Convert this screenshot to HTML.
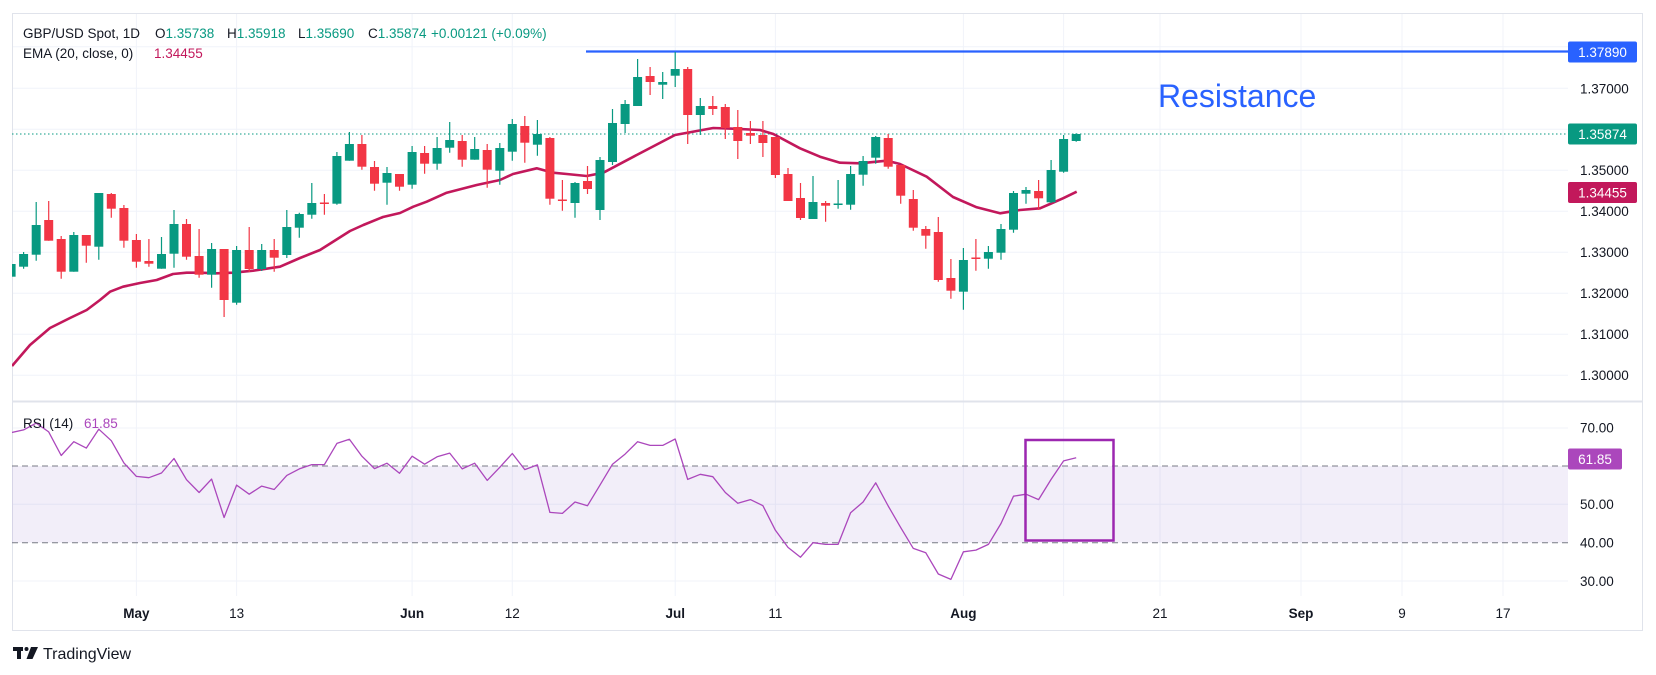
<!DOCTYPE html>
<html><head><meta charset="utf-8"><style>
html,body{margin:0;padding:0;background:#fff;}
svg{display:block;font-family:"Liberation Sans",sans-serif;}
</style></head><body>
<svg width="1656" height="675" viewBox="0 0 1656 675" xmlns="http://www.w3.org/2000/svg">
<defs>
<clipPath id="cp"><rect x="12" y="13" width="1556" height="388"/></clipPath>
<clipPath id="cr"><rect x="12" y="402" width="1556" height="194"/></clipPath>
</defs>
<rect x="0" y="0" width="1656" height="675" fill="#fff"/>
<!-- vertical grid -->
<g stroke="#f0f3fa" stroke-width="1">
<path d="M136.4 14V596M236.6 14V596M412.1 14V596M512.3 14V596M675.2 14V596M775.4 14V596M963.4 14V596M1063.6 14V596M1160 14V596M1301 14V596M1402 14V596M1503 14V596"/>
<path d="M12 46.7H1568M12 88.2H1568M12 129.2H1568M12 170.2H1568M12 211.2H1568M12 252.2H1568M12 293.2H1568M12 334.2H1568M12 375.2H1568"/>
<path d="M12 428H1568M12 504.3H1568M12 581H1568"/>
</g>
<!-- frame -->
<rect x="12.5" y="13.5" width="1630" height="617" fill="none" stroke="#e0e3eb"/>
<line x1="12" y1="401.5" x2="1643" y2="401.5" stroke="#e0e3eb" stroke-width="2"/>

<g clip-path="url(#cp)">
<!-- resistance -->
<line x1="586" y1="51.5" x2="1568" y2="51.5" stroke="#2962ff" stroke-width="2.2"/>
<!-- last price dotted -->
<line x1="12" y1="134" x2="1568" y2="134" stroke="#089981" stroke-width="1" stroke-dasharray="1.5,2.5"/>
<!-- EMA -->
<polyline fill="none" stroke="#c2185b" stroke-width="2.6" stroke-linejoin="round" points="12,366 30,345 50,328 70,318 86.7,310 100,300 110,291.7 123,286.7 140,283 156.7,280 173,274 186.7,272.7 200,272.7 216.7,273.3 233,272.7 253,270.7 280,266.7 300,258 320,250 350,231 363.3,225 383,217 400,213 413.3,206.7 426.7,201.7 446.7,192.7 476.7,185 500,180 513,174 536.7,168.3 553,172.7 566.7,174 586.7,176 603.3,172.7 636.7,155 675,135 713.3,128 733,128.7 760,130 773.3,134 800,148.3 820,156.7 840,162.7 860,163.3 886.7,160.7 900,164 926.7,176.7 953,197 976.7,207.3 1000,213.3 1020,210 1040,208.3 1050,204 1063,198.3 1076.7,191.7"/>
<!-- green candles -->
<path stroke="#089981" stroke-width="1.2" fill="none" d="M11.1 264V276.7M23.6 252V268.7M36.2 202V260.7M73.8 232V271.7M98.8 193V259.7M161.5 237V268.7M174 210V267.7M211.6 243V287.7M236.6 246V304.7M261.7 244V271M286.8 210V258M299.3 212.7V237.7M311.8 183V218.7M336.9 152V204.7M349.4 132V160.7M387 167V204.7M412.1 146V188.7M437.1 137V169.7M449.7 122V152.7M474.7 137V159.7M499.8 143V184.7M512.3 119V160.7M537.4 120V155.7M575 182V217.7M600 157V220M612.5 109V165M625.1 100V133M637.6 59V106M662.7 72V99M675.2 52V87M700.3 98V135M813 176V219M838.1 180V208.7M850.6 166V209.7M863.1 156V185.7M875.7 136V163.7M963.4 248V309.7M988.4 246V268.7M1001 224V259.7M1013.5 191V232.7M1026 187V203.7M1051.1 160V203M1063.6 135V172.7M1076.2 133.3V141.7"/>
<g fill="#089981">
<rect x="6.6" y="264" width="9" height="12.7"/><rect x="19.1" y="254" width="9" height="12.7"/><rect x="31.7" y="225" width="9" height="29.7"/><rect x="69.3" y="235" width="9" height="36.7"/><rect x="94.3" y="193" width="9" height="53.7"/><rect x="157" y="254" width="9" height="14.7"/><rect x="169.5" y="224" width="9" height="29.7"/><rect x="207.1" y="249" width="9" height="25.7"/><rect x="232.1" y="250" width="9" height="52.7"/><rect x="257.2" y="250" width="9" height="19"/><rect x="282.3" y="227" width="9" height="28"/><rect x="294.8" y="214" width="9" height="13.7"/><rect x="307.3" y="203" width="9" height="11.7"/><rect x="332.4" y="156" width="9" height="47.7"/><rect x="344.9" y="144" width="9" height="16.7"/><rect x="382.5" y="173" width="9" height="9.7"/><rect x="407.6" y="152" width="9" height="32.7"/><rect x="432.6" y="148" width="9" height="15.7"/><rect x="445.2" y="140" width="9" height="7.7"/><rect x="470.2" y="149" width="9" height="10.7"/><rect x="495.3" y="148" width="9" height="22.7"/><rect x="507.8" y="124" width="9" height="27.7"/><rect x="532.9" y="134" width="9" height="10.7"/><rect x="570.5" y="183" width="9" height="20"/><rect x="595.5" y="160" width="9" height="50"/><rect x="608" y="123" width="9" height="39"/><rect x="620.6" y="104" width="9" height="20"/><rect x="633.1" y="77" width="9" height="29"/><rect x="658.2" y="82" width="9" height="2.7"/><rect x="670.7" y="69" width="9" height="6.7"/><rect x="695.8" y="106" width="9" height="9"/><rect x="808.5" y="202" width="9" height="17"/><rect x="833.6" y="203.5" width="9" height="1.5"/><rect x="846.1" y="174" width="9" height="30.7"/><rect x="858.6" y="161" width="9" height="13.7"/><rect x="871.2" y="137" width="9" height="20.7"/><rect x="958.9" y="260" width="9" height="31.7"/><rect x="983.9" y="252" width="9" height="6.7"/><rect x="996.5" y="229" width="9" height="23.7"/><rect x="1009" y="193" width="9" height="36.7"/><rect x="1021.5" y="190" width="9" height="3.7"/><rect x="1046.6" y="170" width="9" height="32.3"/><rect x="1059.1" y="139" width="9" height="32.7"/><rect x="1071.7" y="134" width="9" height="7"/>
</g>
<!-- red candles -->
<path stroke="#f23645" stroke-width="1.2" fill="none" d="M48.7 201V240.7M61.2 236V278.7M86.3 235V262.7M111.3 193V217.7M123.9 205V247.7M136.4 234V267.7M148.9 239V266.7M186.5 219V259.7M199.1 229V277.7M224.1 249V317M249.2 227V272M274.2 239V271.7M324.4 194V214.7M361.9 135V169.7M374.5 161V190.7M399.5 174V190.7M424.6 146V173.7M462.2 135V166.7M487.2 144V187.7M524.8 116V162.7M549.9 137V204.7M562.4 180V210.7M587.5 166V194M650.1 67V95M687.7 67V144M712.8 96V115M725.3 104V139M737.8 110V159M750.4 121V144M762.9 121V157M775.4 137V178M788 168V201M800.5 183V220M825.6 201V221.7M888.2 134V168.7M900.7 165V203.7M913.3 190V230.7M925.8 226V248.7M938.3 217V281.7M950.9 259V298.7M975.9 239V270.7M1038.6 180V210"/>
<g fill="#f23645">
<rect x="44.2" y="220" width="9" height="20.7"/><rect x="56.7" y="239" width="9" height="32.7"/><rect x="81.8" y="235" width="9" height="10.7"/><rect x="106.8" y="194" width="9" height="14.7"/><rect x="119.4" y="208" width="9" height="32.7"/><rect x="131.9" y="240" width="9" height="21.7"/><rect x="144.4" y="261" width="9" height="2.7"/><rect x="182" y="224" width="9" height="32.7"/><rect x="194.6" y="256" width="9" height="18.7"/><rect x="219.6" y="249" width="9" height="51"/><rect x="244.7" y="250" width="9" height="19"/><rect x="269.7" y="250" width="9" height="7.7"/><rect x="319.9" y="202.5" width="9" height="1.5"/><rect x="357.4" y="144" width="9" height="22.7"/><rect x="370" y="167" width="9" height="16.7"/><rect x="395" y="174" width="9" height="12.7"/><rect x="420.1" y="153" width="9" height="10.7"/><rect x="457.7" y="141" width="9" height="18.7"/><rect x="482.7" y="150" width="9" height="19.7"/><rect x="520.3" y="126" width="9" height="16.7"/><rect x="545.4" y="138" width="9" height="60.7"/><rect x="557.9" y="199.5" width="9" height="1.5"/><rect x="583" y="181" width="9" height="8"/><rect x="645.6" y="76" width="9" height="6"/><rect x="683.2" y="69" width="9" height="46"/><rect x="708.3" y="106" width="9" height="3"/><rect x="720.8" y="107" width="9" height="21"/><rect x="733.3" y="127" width="9" height="14"/><rect x="745.9" y="133" width="9" height="2.7"/><rect x="758.4" y="135" width="9" height="8"/><rect x="770.9" y="137" width="9" height="38"/><rect x="783.5" y="174" width="9" height="27"/><rect x="796" y="198" width="9" height="20"/><rect x="821.1" y="203" width="9" height="2.7"/><rect x="883.7" y="138" width="9" height="28.7"/><rect x="896.2" y="165" width="9" height="30.7"/><rect x="908.8" y="199" width="9" height="28.7"/><rect x="921.3" y="229" width="9" height="6.7"/><rect x="933.8" y="232" width="9" height="48"/><rect x="946.4" y="278" width="9" height="12.7"/><rect x="971.4" y="257.5" width="9" height="1.5"/><rect x="1034.1" y="191" width="9" height="7.3"/>
</g>
<text x="1158" y="107" font-size="32" fill="#2962ff">Resistance</text>
</g>

<!-- RSI pane -->
<g clip-path="url(#cr)">
<rect x="12" y="466" width="1556" height="76.7" fill="#7e57c2" fill-opacity="0.1"/>
<line x1="12" y1="466" x2="1568" y2="466" stroke="#787b86" stroke-dasharray="6,4"/>
<line x1="12" y1="542.7" x2="1568" y2="542.7" stroke="#787b86" stroke-dasharray="6,4"/>
<polyline fill="none" stroke="#ab47bc" stroke-width="1.3" stroke-linejoin="round" points="11.1,432.6 23.6,429.9 36.2,423.1 48.7,431.9 61.2,455.5 73.8,441.7 86.3,448.1 98.8,429.2 111.3,440.7 123.9,462.9 136.4,476.4 148.9,477.7 161.5,473 174,458.5 186.5,479.7 199.1,492.5 211.6,479.1 224.1,517.5 236.6,485.1 249.2,494.2 261.7,486.1 274.2,489.5 286.8,475.4 299.3,468.9 311.8,464.6 324.4,464.6 336.9,443.4 349.4,439.3 361.9,456.2 374.5,468.6 387,463.2 399.5,473.3 412.1,456.2 424.6,464.2 437.1,456.8 449.7,453.1 462.2,468.9 474.7,463.2 487.2,480.4 499.8,467.3 512.3,453.5 524.8,469.6 537.4,464.9 549.9,512.4 562.4,513.4 575,502 587.5,505.7 600,485.1 612.5,464.2 625.1,454.1 637.6,441.7 650.1,445.4 662.7,445.4 675.2,439 687.7,479.4 700.3,474.3 712.8,476.7 725.3,492.5 737.8,503.3 750.4,499.6 762.9,505.7 775.4,530.3 788,547.4 800.5,557.2 813,542.7 825.6,544.4 838.1,544.4 850.6,512.7 863.1,502 875.7,482.8 888.2,506 900.7,527.6 913.3,548.4 925.8,552.8 938.3,574 950.9,579.4 963.4,551.8 975.9,550.1 988.4,544.4 1001,523.5 1013.5,496.2 1026,494.2 1038.6,499.6 1051.1,479.4 1063.6,460.9 1076.2,457.8"/>
<rect x="1025.5" y="440" width="88" height="100.5" fill="none" stroke="#9c27b0" stroke-width="2.5"/>
</g>

<!-- header -->
<g font-size="13.5" fill="#131722">
<text x="23" y="38">GBP/USD Spot, 1D</text>
<text x="155" y="38">O<tspan fill="#089981">1.35738</tspan></text>
<text x="227" y="38">H<tspan fill="#089981">1.35918</tspan></text>
<text x="298" y="38">L<tspan fill="#089981">1.35690</tspan></text>
<text x="368" y="38">C<tspan fill="#089981">1.35874</tspan></text>
<text x="431" y="38" fill="#089981">+0.00121 (+0.09%)</text>
<text x="23" y="58">EMA (20, close, 0)</text>
<text x="154" y="58" fill="#c2185b">1.34455</text>
<text x="23" y="428">RSI (14)</text>
<text x="84" y="428" fill="#ab47bc">61.85</text>
</g>

<!-- price axis -->
<g font-size="13.5" fill="#131722">
<text x="1580" y="93.5">1.37000</text>
<text x="1580" y="175">1.35000</text>
<text x="1580" y="216">1.34000</text>
<text x="1580" y="257">1.33000</text>
<text x="1580" y="298">1.32000</text>
<text x="1580" y="339">1.31000</text>
<text x="1580" y="380">1.30000</text>
<text x="1580" y="432.5">70.00</text>
<text x="1580" y="509">50.00</text>
<text x="1580" y="547.5">40.00</text>
<text x="1580" y="586">30.00</text>
</g>
<rect x="1568" y="41.5" width="69" height="21" rx="2" fill="#2962ff"/>
<text x="1602.5" y="57" font-size="13.5" fill="#fff" text-anchor="middle">1.37890</text>
<rect x="1568" y="123.5" width="69" height="21" rx="2" fill="#089981"/>
<text x="1602.5" y="139" font-size="13.5" fill="#fff" text-anchor="middle">1.35874</text>
<rect x="1568" y="182" width="69" height="21" rx="2" fill="#c2185b"/>
<text x="1602.5" y="197.5" font-size="13.5" fill="#fff" text-anchor="middle">1.34455</text>
<rect x="1568" y="448.5" width="54" height="21" rx="2" fill="#ab47bc"/>
<text x="1595" y="464" font-size="13.5" fill="#fff" text-anchor="middle">61.85</text>

<!-- time axis -->
<g font-size="13.5" fill="#131722" text-anchor="middle">
<text x="136.4" y="618" font-weight="bold">May</text>
<text x="236.6" y="618">13</text>
<text x="412.1" y="618" font-weight="bold">Jun</text>
<text x="512.3" y="618">12</text>
<text x="675.2" y="618" font-weight="bold">Jul</text>
<text x="775.4" y="618">11</text>
<text x="963.4" y="618" font-weight="bold">Aug</text>
<text x="1160" y="618">21</text>
<text x="1301" y="618" font-weight="bold">Sep</text>
<text x="1402" y="618">9</text>
<text x="1503" y="618">17</text>
</g>

<!-- logo -->
<g fill="#131722">
<rect x="13" y="647" width="10" height="4"/>
<rect x="17" y="647" width="4" height="12"/>
<circle cx="26.5" cy="649" r="2"/>
<polygon points="31,647 38,647 32.5,659 26.5,659"/>
</g>
<text x="43" y="659" font-size="16" fill="#131722">TradingView</text>
</svg>
</body></html>
